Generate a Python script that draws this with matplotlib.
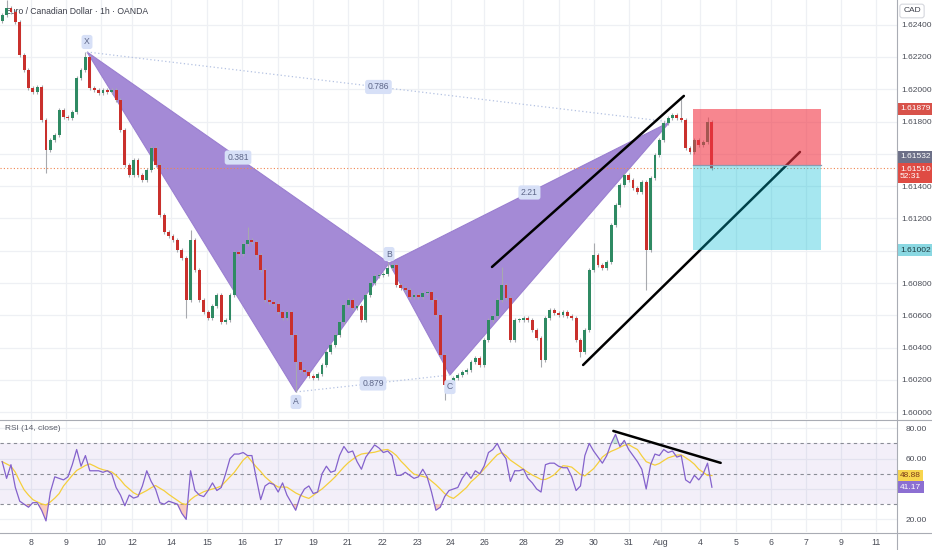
import matplotlib
matplotlib.use("Agg")
import matplotlib.pyplot as plt
import numpy as np
from matplotlib.transforms import blended_transform_factory
from matplotlib.lines import Line2D
from matplotlib.patches import Polygon, Rectangle

plt.rcParams['font.family'] = ['Liberation Sans', 'DejaVu Sans']

# ---------------- data (3-hour candles, EUR/CAD) ----------------
first_open = 1.62420
closes = [
    1.62460, 1.62503, 1.62479, 1.62417, 1.62212, 1.62120, 1.62008, 1.61983, 1.62014, 1.61810,
    1.61624, 1.61686, 1.61717, 1.61872, 1.61828, 1.61822, 1.61859, 1.62070, 1.62120, 1.62200,
    1.62008, 1.61996, 1.61977, 1.61996, 1.61983, 1.61996, 1.61934, 1.61748, 1.61531, 1.61469,
    1.61562, 1.61469, 1.61438, 1.61500, 1.61637, 1.61531, 1.61222, 1.61116, 1.61092, 1.61067,
    1.61005, 1.60955, 1.60695, 1.61067, 1.60881, 1.60695, 1.60621, 1.60584, 1.60658, 1.60726,
    1.60559, 1.60572, 1.60726, 1.60993, 1.60980, 1.61042, 1.61067, 1.61054, 1.60974, 1.60881,
    1.60695, 1.60683, 1.60671, 1.60621, 1.60584, 1.60621, 1.60479, 1.60311, 1.60262, 1.60250,
    1.60225, 1.60212, 1.60237, 1.60293, 1.60373, 1.60417, 1.60479, 1.60559, 1.60664, 1.60695,
    1.60646, 1.60658, 1.60572, 1.60726, 1.60801, 1.60844, 1.60850, 1.60856, 1.60893, 1.60912,
    1.60788, 1.60770, 1.60757, 1.60714, 1.60726, 1.60714, 1.60739, 1.60745, 1.60695, 1.60602,
    1.60355, 1.60169, 1.60188, 1.60212, 1.60231, 1.60250, 1.60262, 1.60311, 1.60336, 1.60293,
    1.60448, 1.60572, 1.60596, 1.60695, 1.60788, 1.60708, 1.60448, 1.60572, 1.60572, 1.60584,
    1.60572, 1.60510, 1.60460, 1.60324, 1.60584, 1.60633, 1.60615, 1.60602, 1.60621, 1.60596,
    1.60584, 1.60448, 1.60373, 1.60510, 1.60881, 1.60974, 1.60912, 1.60893, 1.60931, 1.61160,
    1.61284, 1.61407, 1.61469, 1.61438, 1.61389, 1.61364, 1.61426, 1.61005, 1.61451, 1.61593,
    1.61686, 1.61791, 1.61822, 1.61841, 1.61822, 1.61810, 1.61637, 1.61612, 1.61686, 1.61655,
    1.61674, 1.61798, 1.61510,
]
wick_highs = {1: 1.62553, 19: 1.62231, 43: 1.61129, 56: 1.61147, 88: 1.60931,
              114: 1.60901, 135: 1.61048, 155: 1.61952, 161: 1.61830}
wick_lows = {10: 1.61482, 42: 1.60584, 67: 1.60126, 101: 1.60076, 123: 1.60280,
             132: 1.60343, 147: 1.60757, 162: 1.61500}

rsi = [
    58, 47, 56, 41, 32, 30, 28, 31, 31, 26, 19, 38, 48, 47, 46, 48, 56, 66, 55, 62,
    52, 52, 52, 51, 52, 50, 41, 36, 29, 36, 34, 35, 42, 52, 45, 40, 31, 30, 32, 31,
    30, 24, 20, 52, 39, 36, 35, 39, 44, 39, 41, 50, 60, 63, 63, 64, 62, 62, 47, 33,
    42, 44, 43, 38, 44, 36, 31, 26, 35, 40, 42, 37, 38, 50, 55, 51, 52, 62, 68, 64,
    65, 58, 53, 61, 65, 69, 67, 64, 65, 62, 49, 49, 51, 49, 47, 48, 53, 48, 38, 26,
    28, 35, 39, 40, 41, 47, 51, 47, 52, 50, 55, 64, 66, 70, 64, 60, 45, 52, 52, 53,
    47, 44, 40, 38, 56, 57, 57, 55, 54, 54, 48, 39, 42, 62, 70, 65, 61, 57, 62, 70,
    76, 68, 72, 66, 62, 58, 53, 40, 56, 63, 62, 66, 64, 65, 61, 62, 46, 44, 49, 46,
    50, 57, 41.17,
]
rsi_ma = [
    58, 56.5, 55, 51, 45, 39.5, 36, 33, 31.5, 30.2, 29.5, 31.5, 34, 37, 42, 45.5, 49, 52.2, 53.8, 55.5,
    56.5, 55.2, 53.7, 52.7, 52, 51.2, 49, 46, 42.5, 40, 37.5, 36, 37.5, 39, 40.8, 42.3, 40.5, 38.8, 36.5, 34.5,
    32.5, 30.5, 29.8, 33, 35.2, 36.7, 38.2, 39.2, 40, 40.8, 42, 45, 48, 51, 55, 59, 61.5, 58, 54.5, 51.5,
    48, 45.5, 43, 41.3, 41.3, 41.2, 39.3, 37.4, 36, 34.8, 33.8, 35.8, 38, 40, 42.6, 45.2, 48, 51.3, 54.5, 57.3,
    59.5, 61.6, 63, 63.5, 63.8, 64.2, 65, 65.7, 66, 64.3, 62, 58.4, 55.5, 52.4, 49.8, 49, 48.3, 47.6, 45.2, 42.8,
    40, 37, 35, 33.8, 36, 38.5, 41, 44.7, 47.2, 50, 53.2, 56.5, 59.5, 62.5, 64, 62, 59, 57, 55, 53,
    51, 49.2, 47.8, 46.3, 46.3, 47.6, 49.4, 52.3, 55.3, 55, 54.4, 52, 49.5, 48.6, 51, 53.4, 57, 61, 63.2, 64.8,
    66, 67.4, 68.8, 69.2, 67.5, 66, 61.8, 58, 56.8, 55.7, 56.8, 58.7, 60.5, 61.4, 62.3, 62.5, 60.6, 58.7, 56.3, 53,
    51, 48.9, 48.88,
]

day_ticks = [6.5, 14.5, 22.5, 29.6, 38.5, 46.7, 54.7, 63.0, 70.9, 78.9, 86.9, 94.9, 102.4,
             110.0, 118.9, 127.1, 135.1, 143.1, 150.4, 159.3, 167.5, 175.5, 183.5, 191.5, 199.5]
day_labels = ["8", "9", "10", "12", "14", "15", "16", "17", "19", "21", "22", "23", "24",
              "26", "28", "29", "30", "31", "Aug", "4", "5", "6", "7", "9", "11"]
price_ticks = [1.600, 1.602, 1.604, 1.606, 1.608, 1.610, 1.612, 1.614, 1.616, 1.618, 1.620, 1.622, 1.624]
rsi_ticks = [20, 40, 60, 80]

# harmonic pattern (bar index, price)
pat_names = ["X", "A", "B", "C", "D"]
pat_x = [19.36, 67.06, 88.3, 102.2, 152.4]
pat_p = [1.62231, 1.60126, 1.60924, 1.60231, 1.61798]
ratio_labels = ["0.381", "0.786", "0.879", "2.21"]

# trend lines (bar index, price) and RSI trend line
upper_line = [(111.8, 1.60900), (155.6, 1.61959)]
lower_line = [(132.6, 1.60293), (182.1, 1.61612)]
rsi_line = [(139.5, 78.2), (164.0, 57.2)]

# short position tool
pos_x0, pos_x1 = 157.6, 186.8
stop_price, entry_price, target_price = 1.61879, 1.61532, 1.61002
last_price = 1.61510

# ---------------- layout ----------------
W, H = 932, 550
fig = plt.figure(figsize=(W / 100, H / 100), dpi=100)
fig.patch.set_facecolor("white")


def frame(x0, y0, x1, y1):
    return [x0 / W, 1 - y1 / H, (x1 - x0) / W, (y1 - y0) / H]


ax = fig.add_axes(frame(0, 0, 897, 419))
axr = fig.add_axes(frame(0, 420, 897, 532), sharex=ax)

XMIN, XMAX = -0.5, 204.25
ax.set_xlim(XMIN, XMAX)
ax.set_ylim(1.599585, 1.625529)
axr.set_ylim(11.70, 85.41)

GRID = "#eef0f4"
TXT = "#4a4d57"
FS = 6.0
for a in (ax, axr):
    for s in a.spines.values():
        s.set_visible(False)
    a.set_facecolor("white")
    for t in day_ticks:
        a.axvline(t, color=GRID, lw=0.9, zorder=0)
for p in price_ticks:
    ax.axhline(p, color=GRID, lw=0.9, zorder=0)
for r in rsi_ticks:
    axr.axhline(r, color=GRID, lw=0.9, zorder=0)

# price axis (labels hidden behind the price tags are left blank, as on screen)
hidden_price = {1.616, 1.610}
ax.yaxis.tick_right()
ax.set_yticks(price_ticks)
ax.set_yticklabels(["" if p in hidden_price else f"{p:.5f}" for p in price_ticks])
ax.tick_params(axis="y", length=0, pad=3, labelsize=FS, labelcolor=TXT)
ax.tick_params(axis="x", length=0, labelbottom=False)

hidden_rsi = {40}
axr.yaxis.tick_right()
axr.set_yticks(rsi_ticks)
axr.set_yticklabels(["" if r in hidden_rsi else f"{r:.2f}" for r in rsi_ticks])
axr.tick_params(axis="y", length=0, pad=6, labelsize=FS, labelcolor=TXT)
axr.set_xticks(day_ticks)
axr.set_xticklabels(day_labels)
axr.tick_params(axis="x", length=0, pad=4, labelsize=6.3, labelcolor=TXT)

# ---------------- harmonic pattern ----------------
PURPLE = "#a48ad6"
tri1 = Polygon(list(zip(pat_x[0:3], pat_p[0:3])), closed=True, facecolor=PURPLE,
               edgecolor="#9a7fd0", lw=0.8, zorder=1)
tri2 = Polygon(list(zip(pat_x[2:5], pat_p[2:5])), closed=True, facecolor=PURPLE,
               edgecolor="#9a7fd0", lw=0.8, zorder=1)
ax.add_patch(tri1)
ax.add_patch(tri2)
ax.plot([pat_x[0], pat_x[4]], [pat_p[0], pat_p[4]], color="#b4c2e2", lw=0.9,
        ls=(0, (1, 2)), zorder=1.5)
ax.plot([pat_x[1], pat_x[3]], [pat_p[1], pat_p[3]], color="#b4c2e2", lw=0.9,
        ls=(0, (1, 2)), zorder=1.5)

# current price line
ax.axhline(last_price, color="#f0854f", lw=0.8, ls=(0, (1, 2)), zorder=2)

# ---------------- candles ----------------
n = len(closes)
idx = np.arange(n)
c = np.array(closes)
o = np.array([first_open] + closes[:-1])
hi = np.maximum(o, c) + 0.00012
lo = np.minimum(o, c) - 0.00012
for k, v in wick_highs.items():
    hi[k] = max(hi[k], v)
for k, v in wick_lows.items():
    lo[k] = min(lo[k], v)
UP, DOWN, WICK = "#2f8a63", "#c9302c", "#a7a9ae"
cols = np.where(c >= o, UP, DOWN)
ax.vlines(idx, lo, hi, color=WICK, lw=0.8, zorder=3)
ax.bar(idx, np.maximum(np.abs(c - o), 0.00004), bottom=np.minimum(o, c), width=0.66,
       color=cols, linewidth=0, zorder=3.2)

# ---------------- trend lines + position ----------------
ax.plot(*zip(*lower_line), color="black", lw=1.8, zorder=3.5, solid_capstyle="round")
ax.add_patch(Rectangle((pos_x0, entry_price), pos_x1 - pos_x0, stop_price - entry_price,
                       facecolor="#f23645", alpha=0.6, lw=0, zorder=4))
ax.add_patch(Rectangle((pos_x0, target_price), pos_x1 - pos_x0, entry_price - target_price,
                       facecolor="#00bcd4", alpha=0.35, lw=0, zorder=4))
ax.plot([pos_x0, pos_x1], [entry_price, entry_price], color="#8a9bb0", lw=0.9, zorder=4.1)
ax.plot(*zip(*upper_line), color="black", lw=1.8, zorder=5, solid_capstyle="round")

# pattern labels
LBL = dict(boxstyle="round,pad=0.3,rounding_size=0.3", facecolor="#d7e0f7", edgecolor="none")
offs = [(0, 10), (0, -10), (0, 9), (0, -12)]
for name, x, p, off in zip(pat_names[:4], pat_x[:4], pat_p[:4], offs):
    ax.annotate(name, (x, p), xytext=off, textcoords="offset pixels", ha="center",
                va="center", fontsize=6.2, color="#5d6688", bbox=LBL, zorder=6)
pairs = [(0, 2), (0, 4), (1, 3), (2, 4)]
for lab, (i, j) in zip(ratio_labels, pairs):
    ax.text((pat_x[i] + pat_x[j]) / 2, (pat_p[i] + pat_p[j]) / 2, lab, ha="center",
            va="center", fontsize=6.2, color="#5d6688", bbox=LBL, zorder=6)

# titles
ax.text(5 / 897, 1 - 11 / 419, "Euro / Canadian Dollar · 1h · OANDA", transform=ax.transAxes,
        fontsize=6.2, color="#3c3f4a", va="center", ha="left", zorder=2.8)
axr.text(5 / 897, 1 - 9 / 112, "RSI (14, close)", transform=axr.transAxes,
         fontsize=6.0, color="#5a5d68", va="center", ha="left", zorder=6)

# ---------------- RSI ----------------
axr.axhspan(30, 70, color="#7e57c2", alpha=0.09, lw=0, zorder=0.5)
for lvl in (70, 50, 30):
    axr.axhline(lvl, color="#8a8d96", lw=0.8, ls=(0, (3, 3)), zorder=1)
r = np.array(rsi, dtype=float)
axr.fill_between(idx, r, 30, where=r < 30, interpolate=True, color="#f28b6b", alpha=0.45,
                 lw=0, zorder=1.5)
axr.fill_between(idx, r, 70, where=r > 70, interpolate=True, color="#7fc8a5", alpha=0.45,
                 lw=0, zorder=1.5)
axr.plot(idx, rsi_ma, color="#f5cf3c", lw=0.9, zorder=2)
axr.plot(idx, r, color="#8462cc", lw=0.9, zorder=3)
axr.plot(*zip(*rsi_line), color="black", lw=1.8, zorder=4, solid_capstyle="round")

# ---------------- axis labels / boxes ----------------
tr = blended_transform_factory(ax.transAxes, ax.transData)
trr = blended_transform_factory(axr.transAxes, axr.transData)
bx = 1 + 3.0 / 897


def tag(a, t, y, text, fc, tc):
    a.text(bx, y, text, transform=t, fontsize=FS, color=tc, ha="left", va="center",
           linespacing=1.1, clip_on=False, zorder=10,
           bbox=dict(boxstyle="square,pad=0.3", facecolor=fc, edgecolor="none"))


tag(ax, tr, stop_price, f"{stop_price:.5f}", "#d8524a", "white")
tag(ax, tr, 1.61581, f"{entry_price:.5f}", "#6d7088", "white")
tag(ax, tr, 1.61482, f"{last_price:.5f}\n52:31", "#df4b43", "white")
tag(ax, tr, target_price, f"{target_price:.5f}", "#8ad8e2", "#1d3a40")
tag(axr, trr, rsi_ma[-1], f"{rsi_ma[-1]:.2f}", "#f8d54e", "#7a3a1a")
tag(axr, trr, rsi[-1], f"{rsi[-1]:.2f}", "#8c6fd2", "white")

fig.text(912 / W, 1 - 11 / H, "CAD", fontsize=6.0, color="#3c3f4a", ha="center", va="center",
         bbox=dict(boxstyle="round,pad=0.4,rounding_size=0.3", facecolor="white",
                   edgecolor="#d5d7dd", lw=0.8))

# separators
SEP = "#a9acb4"
fig.add_artist(Line2D([896.5 / W, 896.5 / W], [0, 1], color=SEP, lw=0.8))
fig.add_artist(Line2D([0, 1], [1 - 419.5 / H, 1 - 419.5 / H], color=SEP, lw=0.8))
fig.add_artist(Line2D([0, 1], [1 - 532.5 / H, 1 - 532.5 / H], color=SEP, lw=0.8))

fig.savefig("out.png", dpi=100, facecolor="white")
